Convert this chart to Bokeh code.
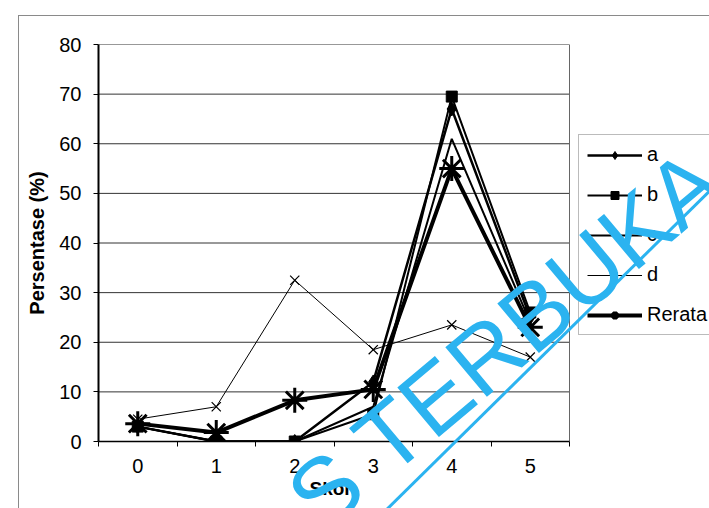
from bokeh.plotting import figure
from bokeh.models import (Legend, LegendItem, FixedTicker, Range1d, Div, Title)
from bokeh.layouts import column
from bokeh.embed import file_html
from bokeh.resources import INLINE

skor = [0, 1, 2, 3, 4, 5]
skor_labels = ["0", "1", "2", "3", "4", "5"]
seri_a = [3, 0, 0, 12, 67, 25]
seri_b = [3, 0, 0, 5.5, 69.5, 26]
seri_c = [3, 0, 0, 7, 61, 24]
seri_d = [4.5, 7, 32.5, 18.5, 23.5, 17]
rerata = [3.6, 1.8, 8.3, 10.5, 55, 23]
y_ticks = [0, 10, 20, 30, 40, 50, 60, 70, 80]

FONT = "Liberation Sans"

# plot area spans 98..569 px for the 6 score bands; the frame continues to the
# right edge so the legend can sit there
x_lo = min(skor) - 0.5
x_hi = max(skor) + 0.5
x_end = x_lo + (x_hi - x_lo) * (709 - 98) / (569 - 98)

p = figure(width=709, height=508, output_backend="svg", toolbar_location=None,
           x_range=Range1d(x_lo, x_end), y_range=Range1d(y_ticks[0], y_ticks[-1]),
           min_border_left=98, min_border_right=0, min_border_top=44,
           min_border_bottom=67)
p.background_fill_color = "white"
p.border_fill_color = "white"
p.outline_line_color = None

p.xgrid.grid_line_color = None
p.ygrid.grid_line_color = None

# horizontal gridlines and right border of the plot area
p.segment(x0=[x_lo] * (len(y_ticks) - 1), x1=[x_hi] * (len(y_ticks) - 1),
          y0=y_ticks[1:], y1=y_ticks[1:], line_color="#333333", line_width=1)
p.segment(x0=[x_hi], x1=[x_hi], y0=[y_ticks[0]], y1=[y_ticks[-1]],
          line_color="#666666", line_width=1)

# x axis
p.xaxis.bounds = (x_lo, x_hi)
p.xaxis.ticker = FixedTicker(ticks=skor, minor_ticks=[s - 0.5 for s in skor] + [x_hi])
p.xaxis.major_label_overrides = {s: l for s, l in zip(skor, skor_labels)}
p.xaxis.major_tick_line_color = None
p.xaxis.minor_tick_line_color = "black"
p.xaxis.minor_tick_out = 5
p.xaxis.minor_tick_in = 0
p.xaxis.axis_line_color = "black"
p.xaxis.axis_line_width = 1.5
p.xaxis.major_label_text_font = FONT
p.xaxis.major_label_text_font_size = "20px"
p.xaxis.major_label_text_color = "black"
p.xaxis.major_label_standoff = 11

# x axis title, centred under the plot area (not under the wider frame)
x_title = Title(text="Skor", align="left", offset=211, standoff=0,
                text_font=FONT, text_font_size="19px", text_font_style="bold",
                text_color="black")
p.add_layout(x_title, "below")

# y axis
p.yaxis.ticker = FixedTicker(ticks=y_ticks)
p.yaxis.major_tick_line_color = "black"
p.yaxis.major_tick_out = 5
p.yaxis.major_tick_in = 0
p.yaxis.minor_tick_line_color = None
p.yaxis.axis_line_color = "black"
p.yaxis.axis_line_width = 2
p.yaxis.major_label_text_font = FONT
p.yaxis.major_label_text_font_size = "20px"
p.yaxis.major_label_text_color = "black"
p.yaxis.major_label_standoff = 12
p.yaxis.axis_label = "Persentase (%)"
p.yaxis.axis_label_text_font = FONT
p.yaxis.axis_label_text_font_size = "20px"
p.yaxis.axis_label_text_font_style = "bold"
p.yaxis.axis_label_text_color = "black"
p.yaxis.axis_label_standoff = 8

# series
la = p.line(skor, seri_a, line_color="black", line_width=2.5)
ma = p.scatter(skor, seri_a, marker="diamond", size=14, color="black")
lb = p.line(skor, seri_b, line_color="black", line_width=2)
mb = p.scatter(skor, seri_b, marker="square", size=11, color="black")
lc = p.line(skor, seri_c, line_color="black", line_width=2)
ld = p.line(skor, seri_d, line_color="black", line_width=1)
md = p.scatter(skor, seri_d, marker="x", size=13, line_color="black", line_width=1.2)
lr = p.line(skor, rerata, line_color="black", line_width=4)
mr = p.scatter(skor, rerata, marker="asterisk", size=25, line_color="black", line_width=3)

legend = Legend(items=[
    LegendItem(label="a", renderers=[la, ma]),
    LegendItem(label="b", renderers=[lb, mb]),
    LegendItem(label="c", renderers=[lc]),
    LegendItem(label="d", renderers=[ld, md]),
    LegendItem(label="Rerata", renderers=[lr, mr]),
], location=(480, 106))
legend.margin = 0
legend.glyph_width = 55
legend.glyph_height = 20
legend.label_height = 20
legend.spacing = 17
legend.padding = 8
legend.label_standoff = 5
legend.label_text_font = FONT
legend.label_text_font_size = "20px"
legend.label_text_color = "black"
legend.border_line_color = "#777777"
legend.border_line_width = 1
legend.background_fill_color = "white"
legend.background_fill_alpha = 1
p.add_layout(legend, "center")

# watermark overlay and outer chart-area border of the scan
WM = "#2BB3F0"
wm_html = (
    '<div style="position:absolute;left:0;top:0;width:0;height:0;overflow:visible;">'
    '<div style="position:absolute;left:13px;top:10px;width:700px;height:1px;background:#8a8a8a;"></div>'
    '<div style="position:absolute;left:13px;top:10px;width:1px;height:500px;background:#8a8a8a;"></div>'
    f'<div style="position:absolute;left:262px;top:464px;transform-origin:0 0;'
    f'transform:rotate(-40deg);white-space:nowrap;font-family:\'Liberation Sans\';'
    f'font-size:94px;line-height:normal;color:{WM};">S TERBUKA</div>'
    f'<div style="position:absolute;left:375px;top:509px;width:480px;height:3px;'
    f'background:{WM};transform-origin:0 0;transform:rotate(-44.6deg);"></div>'
    '</div>'
)
wm_div = Div(text=wm_html, width=1, height=1,
             styles={"position": "absolute", "left": "0px", "top": "0px",
                     "z-index": "10", "pointer-events": "none",
                     "overflow": "visible"})

layout = column(p, wm_div)
open("out.html", "w").write(file_html(layout, INLINE))
